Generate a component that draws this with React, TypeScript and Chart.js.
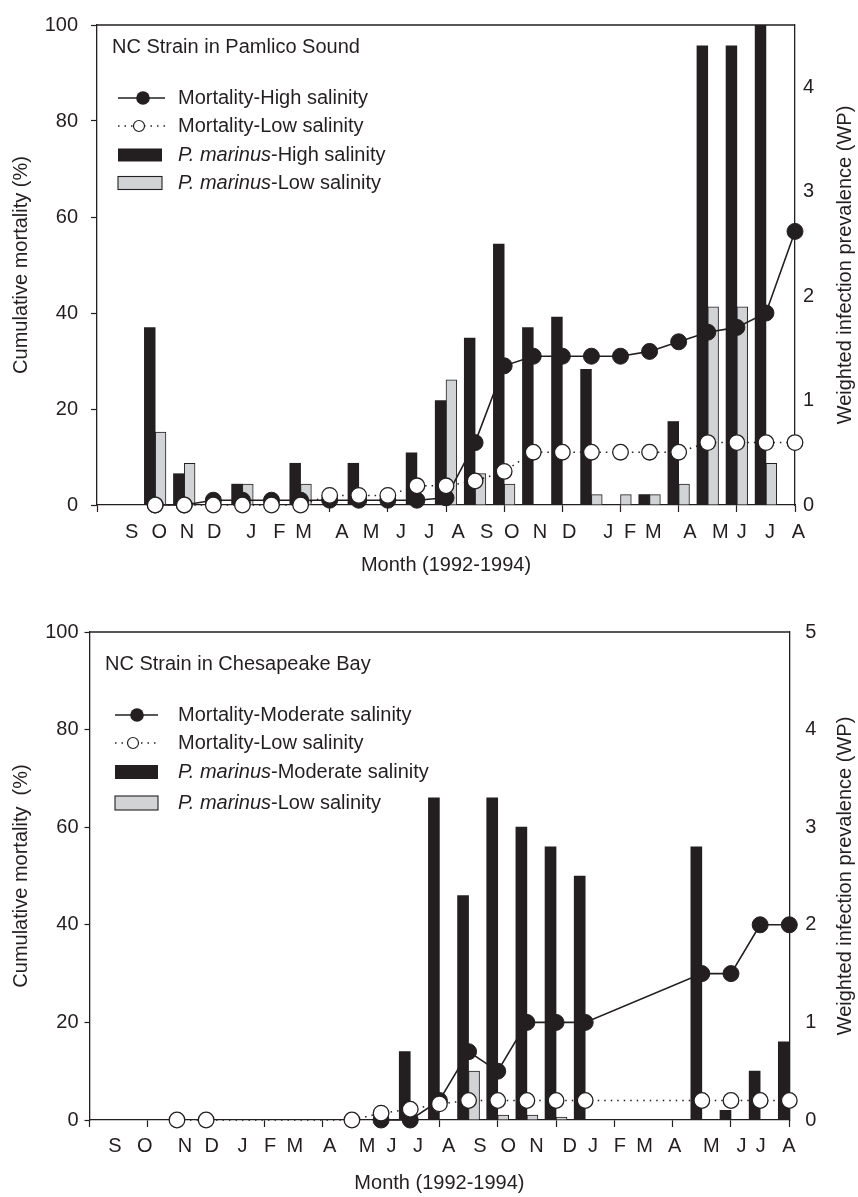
import React, { useEffect, useRef } from 'react';
import { Chart, registerables } from 'chart.js';

Chart.register(...registerables);

const INK = '#231f20';
const GREY = '#d1d3d4';
const FONT = '"Liberation Sans", Arial, Helvetica, sans-serif';

Chart.defaults.font.family = FONT;
Chart.defaults.font.size = 20;
Chart.defaults.color = INK;

// ---------- shared axis ticks ----------
const monthTickMarks = [0, 2, 4, 6, 8, 10, 12, 14, 16, 18, 20, 22, 24];
const leftTicks = [0, 20, 40, 60, 80, 100];
const monthLetters = ['S', 'O', 'N', 'D', 'J', 'F', 'M', 'A', 'M', 'J', 'J', 'A', 'S', 'O', 'N', 'D', 'J', 'F', 'M', 'A', 'M', 'J', 'J', 'A'];

// ---------- Top panel: Pamlico Sound ----------
const topMonths = [2, 3, 4, 5, 6, 7, 8, 9, 10, 11, 12, 13, 14, 15, 16, 17, 18, 19, 20, 21, 22, 23, 24];
const topMortHigh = [0, 0, 1, 1, 1, 1, 1, 1, 1, 1, 1.5, 13, 29, 31, 31, 31, 31, 32, 34, 36, 37, 40, 57];
const topMortLow = [0, 0, 0, 0, 0, 0, 2, 2, 2, 4, 4, 5, 7, 11, 11, 11, 11, 11, 11, 13, 13, 13, 13];
const topWPHigh = [1.7, 0.3, null, 0.2, null, 0.4, null, 0.4, null, 0.5, 1.0, 1.6, 2.5, 1.7, 1.8, 1.3, null, 0.1, 0.8, 4.4, 4.4, 4.6, null];
const topWPLow = [0.7, 0.4, null, 0.2, null, 0.2, null, null, null, null, 1.2, 0.3, 0.2, null, null, 0.1, 0.1, 0.1, 0.2, 1.9, 1.9, 0.4, null];
const topMonthLabelPos = [1.19, 2.14, 3.09, 4.03, 5.3, 6.27, 7.1, 8.42, 9.42, 10.45, 11.42, 12.42, 13.4, 14.26, 15.23, 16.24, 17.58, 18.33, 19.13, 20.39, 21.43, 22.17, 23.14, 24.12];
const topRightTicks = [0, 1, 2, 3, 4];

// ---------- Bottom panel: Chesapeake Bay ----------
const botMonths = [3, 4, 9, 10, 11, 12, 13, 14, 15, 16, 17, 21, 22, 23, 24];
const botMortMod = [null, null, null, 0, 0, 4, 14, 10, 20, 20, 20, 30, 30, 40, 40];
const botMortLow = [0, 0, 0, 1.4, 2.2, 3.3, 4, 4, 4, 4, 4, 4, 4, 4, 4];
const botWPMod = [null, null, null, null, 0.7, 3.3, 2.3, 3.3, 3.0, 2.8, 2.5, 2.8, 0.1, 0.5, 0.8];
const botWPLow = [null, null, null, null, null, null, 0.5, 0.05, 0.05, 0.03, null, null, null, null, null];
const botMonthLabelPos = [0.87, 1.9, 3.27, 4.19, 5.25, 6.19, 7.04, 8.24, 9.52, 10.36, 11.27, 12.32, 13.39, 14.36, 15.33, 16.47, 17.27, 18.19, 19.04, 20.07, 21.33, 22.36, 23.02, 23.99];
const botRightTicks = [0, 1, 2, 3, 4, 5];

const topNames = ['Mortality-High salinity', 'Mortality-Low salinity', '-High salinity', '-Low salinity'];
const botNames = ['Mortality-Moderate salinity', 'Mortality-Low salinity', '-Moderate salinity', '-Low salinity'];

const panelDecor = {
  id: 'panelDecor',
  afterDraw(chart: any, _args: any, opts: any) {
    const { ctx, chartArea } = chart;
    ctx.save();
    // top frame line
    ctx.strokeStyle = INK;
    ctx.lineWidth = 1.3;
    ctx.beginPath();
    ctx.moveTo(chartArea.left, chartArea.top);
    ctx.lineTo(chartArea.right, chartArea.top);
    ctx.stroke();

    ctx.fillStyle = INK;
    ctx.textBaseline = 'middle';
    ctx.textAlign = 'left';
    ctx.font = `20px ${FONT}`;
    // right axis title (reads bottom to top)
    ctx.save();
    ctx.translate(opts.rightTitleX, (chartArea.top + chartArea.bottom) / 2);
    ctx.rotate(-Math.PI / 2);
    ctx.textAlign = 'center';
    ctx.fillText('Weighted infection prevalence (WP)', 0, 0);
    ctx.restore();

    // panel title
    ctx.fillText(opts.title, opts.titleX, opts.titleY);

    // legend
    const L = opts.legend;
    const names = opts.names;
    L.rows.forEach((y: number, i: number) => {
      ctx.strokeStyle = INK;
      ctx.fillStyle = INK;
      if (i === 0) {
        ctx.lineWidth = 1.6;
        ctx.setLineDash([]);
        ctx.beginPath();
        ctx.moveTo(L.symL, y);
        ctx.lineTo(L.symR, y);
        ctx.stroke();
        ctx.beginPath();
        ctx.arc(L.circX, y, 6.8, 0, Math.PI * 2);
        ctx.fill();
      } else if (i === 1) {
        ctx.lineWidth = 1.4;
        ctx.setLineDash([1.5, 5]);
        ctx.beginPath();
        ctx.moveTo(L.symL, y);
        ctx.lineTo(L.symR, y);
        ctx.stroke();
        ctx.setLineDash([]);
        ctx.beginPath();
        ctx.arc(L.circX - 4, y, 5.5, 0, Math.PI * 2);
        ctx.fillStyle = '#ffffff';
        ctx.fill();
        ctx.lineWidth = 1.2;
        ctx.stroke();
      } else {
        ctx.setLineDash([]);
        const w = L.rectR - L.symL;
        const h = L.rectH;
        if (i === 2) {
          ctx.fillStyle = INK;
          ctx.fillRect(L.symL, y - h / 2, w, h);
        } else {
          ctx.fillStyle = GREY;
          ctx.fillRect(L.symL, y - h / 2, w, h);
          ctx.lineWidth = 1.1;
          ctx.strokeRect(L.symL, y - h / 2, w, h);
        }
      }
      ctx.fillStyle = INK;
      let x = L.textX;
      if (i >= 2) {
        ctx.font = `italic 20px ${FONT}`;
        ctx.fillText('P. marinus', x, y);
        x += ctx.measureText('P. marinus').width;
        ctx.font = `20px ${FONT}`;
      }
      ctx.fillText(names[i], x, y);
    });
    ctx.restore();
  },
};

function makeConfig(p: any) {
  const xTickVals = [...monthTickMarks, ...p.labelPos];
  const xTickText = [...monthTickMarks.map(() => ''), ...monthLetters];
  return {
    type: 'bar',
    data: {
      labels: p.months,
      datasets: [
        {
          type: 'line', label: p.names[1], data: p.mortLow, yAxisID: 'yL', order: 0,
          borderColor: INK, borderWidth: 1.5, borderDash: [1.5, 5], pointRadius: 7.8,
          pointBackgroundColor: '#ffffff', pointBorderColor: INK, pointBorderWidth: 1.3,
          clip: false, spanGaps: true, fill: false,
        },
        {
          type: 'line', label: p.names[0], data: p.mortHigh, yAxisID: 'yL', order: 1,
          borderColor: INK, borderWidth: 1.6, pointRadius: 8, pointBackgroundColor: INK,
          pointBorderColor: INK, pointBorderWidth: 1, clip: false, spanGaps: true, fill: false,
        },
        {
          type: 'bar', label: 'P. marinus' + p.names[2], data: p.wpHigh, yAxisID: 'yR', order: 2,
          backgroundColor: INK, borderWidth: 0, barThickness: p.barW,
        },
        {
          type: 'bar', label: 'P. marinus' + p.names[3], data: p.wpLow, yAxisID: 'yR', order: 3,
          backgroundColor: GREY, borderColor: INK, borderWidth: 1, barThickness: p.barW,
        },
      ],
    },
    options: {
      responsive: false,
      animation: false,
      devicePixelRatio: 1,
      events: [],
      layout: { padding: { top: p.padTop, left: 0, right: 0, bottom: 0 } },
      plugins: {
        legend: { display: false },
        tooltip: { enabled: false },
        panelDecor: {
          title: p.title, titleX: p.titleX, titleY: p.titleY, rightTitleX: 845,
          names: p.names, legend: p.legend,
        },
      },
      scales: {
        x: {
          type: 'linear', position: 'bottom', min: 0, max: 24, offset: false,
          afterBuildTicks: (axis: any) => { axis.ticks = xTickVals.map((v: number) => ({ value: v })); },
          afterFit: (axis: any) => { axis.height = p.xH; },
          ticks: {
            autoSkip: false, maxRotation: 0, minRotation: 0, padding: p.xLabelPad,
            callback: (_v: any, i: number) => xTickText[i], color: INK, font: { size: 20 },
          },
          grid: {
            drawOnChartArea: false, offset: false, tickLength: 7, tickWidth: 1.2,
            tickColor: (c: any) => (c.index < monthTickMarks.length ? INK : 'rgba(0,0,0,0)'),
          },
          border: { display: true, color: INK, width: 1.3 },
          title: {
            display: true, text: 'Month (1992-1994)', color: INK, font: { size: 20 },
            padding: { top: 0, bottom: p.xTitlePad },
          },
        },
        yL: {
          type: 'linear', position: 'left', min: 0, max: 100,
          afterBuildTicks: (axis: any) => { axis.ticks = leftTicks.map((v) => ({ value: v })); },
          afterFit: (axis: any) => { axis.width = p.leftW; },
          ticks: { padding: p.leftTickPad, color: INK, font: { size: 20 } },
          grid: { drawOnChartArea: false, tickLength: p.leftTickLen, tickWidth: 1.2, tickColor: INK },
          border: { display: true, color: INK, width: 1.3 },
          title: {
            display: true, text: p.leftTitle, color: INK, font: { size: 20 },
            padding: { top: 9, bottom: 0 },
          },
        },
        yR: {
          type: 'linear', position: 'right', min: 0, max: p.rightMax,
          afterBuildTicks: (axis: any) => { axis.ticks = p.rightTicks.map((v: number) => ({ value: v })); },
          afterFit: (axis: any) => { axis.width = p.rightW; },
          ticks: { padding: p.rightTickPad, color: INK, font: { size: 20 } },
          grid: { drawOnChartArea: false, drawTicks: false },
          border: { display: true, color: INK, width: 1.3 },
        },
      },
    },
    plugins: [panelDecor],
  };
}

const topSpec = {
  canvasTop: 0, height: 600,
  months: topMonths, mortHigh: topMortHigh, mortLow: topMortLow, wpHigh: topWPHigh, wpLow: topWPLow,
  labelPos: topMonthLabelPos, rightTicks: topRightTicks, rightMax: 4.6,
  names: topNames, title: 'NC Strain in Pamlico Sound', leftTitle: 'Cumulative mortality (%)',
  padTop: 17, leftW: 97, rightW: 63, xH: 95, xLabelPad: 8, xTitlePad: 23,
  leftTickLen: 6, leftTickPad: 13, rightTickPad: 8, barW: 10.8,
  titleX: 112, titleY: 47,
  legend: { rows: [98, 126, 155, 183], symL: 118, symR: 165, circX: 143, rectR: 162, rectH: 13, textX: 178 },
};

const botSpec = {
  canvasTop: 600, height: 597,
  months: botMonths, mortHigh: botMortMod, mortLow: botMortLow, wpHigh: botWPMod, wpLow: botWPLow,
  labelPos: botMonthLabelPos, rightTicks: botRightTicks, rightMax: 5,
  names: botNames, title: 'NC Strain in Chesapeake Bay', leftTitle: 'Cumulative mortality  (%)',
  padTop: 32, leftW: 89.5, rightW: 68.7, xH: 77, xLabelPad: 7.7, xTitlePad: 2,
  leftTickLen: 5, leftTickPad: 6, rightTickPad: 16, barW: 11,
  titleX: 105, titleY: 64,
  legend: { rows: [115, 143, 172, 203], symL: 115, symR: 158, circX: 137, rectR: 158, rectH: 14, textX: 178 },
};

function Panel({ spec }: { spec: any }) {
  const ref = useRef<HTMLCanvasElement | null>(null);
  useEffect(() => {
    if (!ref.current) return;
    const chart = new Chart(ref.current, makeConfig(spec) as any);
    return () => chart.destroy();
  }, [spec]);
  return (
    <canvas
      ref={ref}
      width={858}
      height={spec.height}
      style={{ position: 'absolute', left: 0, top: spec.canvasTop, width: 858, height: spec.height, display: 'block' }}
    />
  );
}

export default function App() {
  return (
    <div style={{ position: 'absolute', left: 0, top: 0, width: 858, height: 1197, background: '#ffffff', overflow: 'hidden' }}>
      <Panel spec={topSpec} />
      <Panel spec={botSpec} />
    </div>
  );
}
